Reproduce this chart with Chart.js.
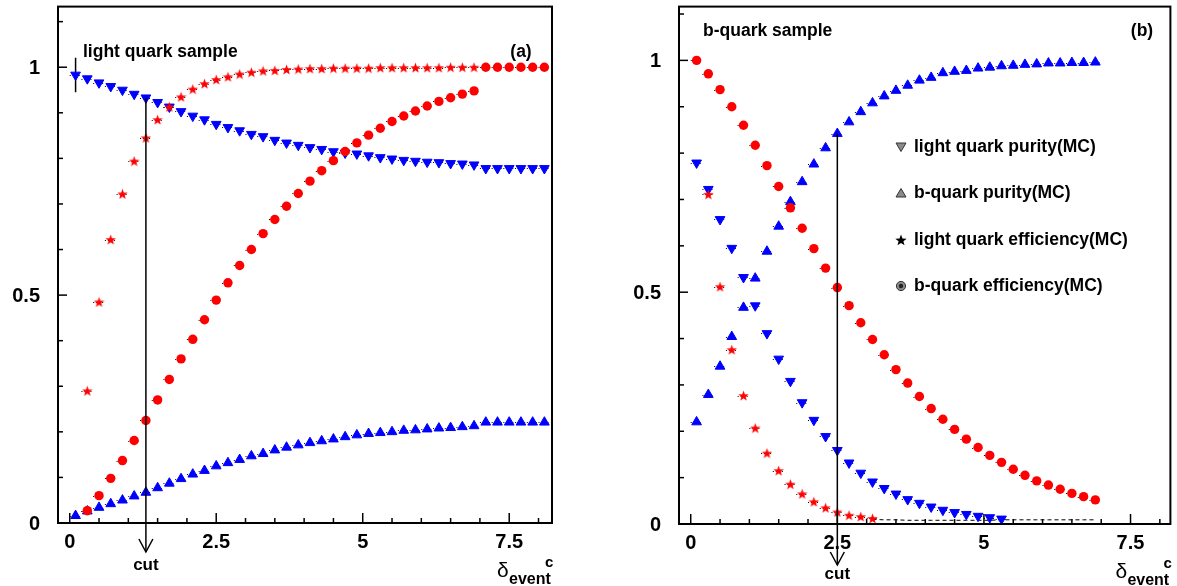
<!DOCTYPE html>
<html lang="en">
<head>
<meta charset="UTF-8">
<title>Purity and efficiency vs delta_event cut</title>
<script src="https://cdn.jsdelivr.net/npm/chart.js"></script>
<style>
  body { margin: 0; background: #fff; }
  canvas { position: absolute; top: 0; }
</style>
</head>
<body>
<canvas id="chartA" width="590" height="586" style="left:0"></canvas>
<canvas id="chartB" width="587" height="586" style="left:590px"></canvas>
<script>
// ---- data: light quark sample (a) ----
const xA = [0.1, 0.3, 0.5, 0.7, 0.9, 1.1, 1.3, 1.5, 1.7, 1.9, 2.1, 2.3, 2.5, 2.7, 2.9, 3.1, 3.3, 3.5, 3.7, 3.9,
            4.1, 4.3, 4.5, 4.7, 4.9, 5.1, 5.3, 5.5, 5.7, 5.9, 6.1, 6.3, 6.5, 6.7, 6.9,
            7.1, 7.3, 7.5, 7.7, 7.9, 8.1];
const lqPurityA = [0.983, 0.975, 0.966, 0.958, 0.950, 0.941, 0.933, 0.923, 0.913, 0.903, 0.893, 0.885, 0.875, 0.868, 0.861, 0.853, 0.848, 0.840, 0.834, 0.829,
                   0.824, 0.820, 0.815, 0.812, 0.810, 0.806, 0.802, 0.799, 0.796, 0.794, 0.792, 0.791, 0.789, 0.788, 0.786,
                   0.778, 0.778, 0.778, 0.778, 0.778, 0.778];
const bPurityA = [0.016, 0.026, 0.034, 0.042, 0.050, 0.059, 0.067, 0.077, 0.087, 0.097, 0.107, 0.115, 0.125, 0.132, 0.139, 0.147, 0.152, 0.160, 0.166, 0.171,
                  0.176, 0.180, 0.184, 0.189, 0.193, 0.196, 0.198, 0.200, 0.203, 0.204, 0.206, 0.208, 0.209, 0.211, 0.213,
                  0.221, 0.221, 0.221, 0.221, 0.221, 0.221];
const lqEffA = [null, 0.290, 0.485, 0.622, 0.722, 0.794, 0.845, 0.885, 0.913, 0.935, 0.952, 0.964, 0.973, 0.979, 0.985, 0.989, 0.992, 0.993, 0.995, 0.996,
                0.997, 0.997, 0.998, 0.998, 0.998, 0.998, 0.999, 0.999, 0.999, 0.999, 0.999, 0.999, 1.0, 1.0, 1.0,
                null, null, null, null, null, null];
const bEffA = [null, 0.027, 0.060, 0.098, 0.137, 0.181, 0.225, 0.270, 0.315, 0.360, 0.403, 0.446, 0.489, 0.527, 0.565, 0.600, 0.635, 0.666, 0.695, 0.723,
               0.750, 0.773, 0.795, 0.815, 0.834, 0.851, 0.866, 0.881, 0.893, 0.904, 0.915, 0.925, 0.933, 0.941, 0.948,
               1.0, 1.0, 1.0, 1.0, 1.0, 1.0];
const errBarA = [0.945, 1.021];   // error on first purity point
const cutA = 1.3;

// ---- data: b-quark sample (b) ----
const xB = [0.1, 0.3, 0.5, 0.7, 0.9, 1.1, 1.3, 1.5, 1.7, 1.9, 2.1, 2.3, 2.5, 2.7, 2.9, 3.1, 3.3, 3.5, 3.7, 3.9,
            4.1, 4.3, 4.5, 4.7, 4.9, 5.1, 5.3, 5.5, 5.7, 5.9, 6.1, 6.3, 6.5, 6.7, 6.9];
const bEffB = [1.0, 0.971, 0.937, 0.900, 0.860, 0.817, 0.773, 0.728, 0.682, 0.638, 0.594, 0.552, 0.510, 0.471, 0.434, 0.398, 0.365, 0.333, 0.304, 0.275,
               0.249, 0.226, 0.204, 0.183, 0.165, 0.148, 0.133, 0.118, 0.105, 0.093, 0.084, 0.075, 0.066, 0.059, 0.052];
const bPurityB = [0.220, 0.279, 0.340, 0.404, 0.467, 0.530, 0.588, 0.642, 0.695, 0.738, 0.776, 0.811, 0.842, 0.867, 0.889, 0.908, 0.923, 0.935, 0.946, 0.957,
                  0.963, 0.973, 0.976, 0.978, 0.983, 0.985, 0.988, 0.989, 0.991, 0.992, 0.994, 0.994, 0.995, 0.995, 0.996];
const lqPurityB = [0.779, 0.722, 0.657, 0.595, 0.532, 0.471, 0.411, 0.356, 0.308, 0.262, 0.224, 0.189, 0.159, 0.132, 0.110, 0.091, 0.077, 0.065, 0.053, 0.045,
                   0.037, 0.030, 0.025, 0.021, 0.017, 0.014, 0.011, null, null, null, null, null, null, null, null];
const lqEffB = [null, 0.711, 0.512, 0.376, 0.277, 0.207, 0.153, 0.115, 0.086, 0.065, 0.048, 0.035, 0.026, 0.019, 0.016, 0.012, null, null, null, null,
                null, null, null, null, null, null, null, null, null, null, null, null, null, null, null];
const tailB = [null, null, null, null, null, null, null, null, null, null, null, null, null, null, null, 0.010, 0.009, 0.009, 0.008, 0.008,
               0.008, 0.008, 0.008, 0.008, 0.008, 0.008, 0.009, 0.009, 0.009, 0.009, 0.009, 0.009, 0.009, 0.009, 0.009];
const cutB = 2.5;
const binHalfWidth = 0.1;

const xTickLabels = ['0', '2.5', '5', '7.5'];
const yTickLabels = ['0', '0.5', '1'];
const legendLabels = ['light quark purity(MC)', 'b-quark purity(MC)', 'light quark efficiency(MC)', 'b-quark efficiency(MC)'];

const RED = '#ff0000', BLUE = '#0000ff';
const FONT = '"Liberation Sans", Arial, Helvetica, sans-serif';

function pts(xs, ys) {
    return xs.map((x, i) => ({ x: x, y: ys[i] }));
}

// filled five point star used as marker
function starImage(size, color) {
    const c = document.createElement('canvas');
    c.width = c.height = size;
    const g = c.getContext('2d');
    const cx = size / 2, cy = size / 2 + 0.5, R = size / 2, r = R * 0.42;
    g.fillStyle = color;
    g.beginPath();
    for (let i = 0; i < 10; i++) {
        const a = -Math.PI / 2 + i * Math.PI / 5;
        const rr = i % 2 ? r : R;
        g.lineTo(cx + rr * Math.cos(a), cy + rr * Math.sin(a));
    }
    g.closePath();
    g.fill();
    return c;
}
const redStar = starImage(11, RED);

// markers only; the dotted horizontal bin-width bars are drawn by the plugin
function series(data, style) {
    const base = { data: data, showLine: false, xErr: true };
    if (style === 'circle') {
        Object.assign(base, { pointStyle: 'circle', pointRadius: 4.7, pointBackgroundColor: RED, pointBorderColor: RED, pointBorderWidth: 0 });
    } else if (style === 'star') {
        Object.assign(base, { pointStyle: redStar, pointRadius: 5 });
    } else if (style === 'up') {
        Object.assign(base, { pointStyle: 'triangle', pointRadius: 5.6, pointBackgroundColor: BLUE, pointBorderColor: BLUE, pointBorderWidth: 1 });
    } else if (style === 'down') {
        Object.assign(base, { pointStyle: 'triangle', rotation: 180, pointRadius: 5.6, pointBackgroundColor: BLUE, pointBorderColor: BLUE, pointBorderWidth: 1 });
    }
    return base;
}

function isMultiple(v, step) {
    const q = v / step;
    return Math.abs(q - Math.round(q)) < 1e-6;
}

function line(ctx, x1, y1, x2, y2) {
    ctx.beginPath();
    ctx.moveTo(x1, y1);
    ctx.lineTo(x2, y2);
    ctx.stroke();
}

function legendMarker(ctx, kind, x, y) {
    ctx.save();
    ctx.lineWidth = 1;
    ctx.strokeStyle = '#333';
    ctx.fillStyle = '#8a8a8a';
    if (kind === 'down' || kind === 'up') {
        const s = kind === 'down' ? 1 : -1;
        ctx.beginPath();
        ctx.moveTo(x - 5, y - 4 * s);
        ctx.lineTo(x + 5, y - 4 * s);
        ctx.lineTo(x, y + 4.5 * s);
        ctx.closePath();
        ctx.fill();
        ctx.stroke();
    } else if (kind === 'star') {
        ctx.drawImage(starImage(12, '#000'), x - 6, y - 6);
    } else {
        ctx.beginPath();
        ctx.arc(x, y, 4.6, 0, Math.PI * 2);
        ctx.fill();
        ctx.stroke();
        ctx.fillStyle = '#222';
        ctx.beginPath();
        ctx.arc(x, y, 2.2, 0, Math.PI * 2);
        ctx.fill();
    }
    ctx.restore();
}

// frame, inward ticks, tick labels, bin bars, cut arrow and annotations
const panelDecor = {
    id: 'panelDecor',
    beforeDatasetsDraw(chart) {
        const ctx = chart.ctx;
        const xs = chart.scales.x, ys = chart.scales.y;
        ctx.save();
        ctx.strokeStyle = '#000';
        ctx.lineWidth = 1;
        ctx.setLineDash([1, 2]);
        chart.data.datasets.forEach(ds => {
            if (!ds.xErr) return;
            ds.data.forEach(p => {
                if (p.y === null) return;
                const py = Math.round(ys.getPixelForValue(p.y)) + 0.5;
                line(ctx, xs.getPixelForValue(p.x - binHalfWidth), py, xs.getPixelForValue(p.x + binHalfWidth), py);
            });
        });
        ctx.restore();
    },
    afterDraw(chart, args, opts) {
        const ctx = chart.ctx;
        const a = chart.chartArea;
        const xs = chart.scales.x, ys = chart.scales.y;
        ctx.save();
        ctx.strokeStyle = '#000';
        ctx.lineWidth = 2;
        ctx.strokeRect(a.left, a.top, a.right - a.left, a.bottom - a.top);

        ctx.lineWidth = 1.5;
        xs.ticks.forEach(t => {
            const px = xs.getPixelForValue(t.value);
            line(ctx, px, a.bottom, px, a.bottom - (isMultiple(t.value, 2.5) ? 10 : 5));
        });
        ys.ticks.forEach(t => {
            const py = ys.getPixelForValue(t.value);
            line(ctx, a.left, py, a.left + (isMultiple(t.value, 0.5) ? 9 : 5), py);
        });

        ctx.fillStyle = '#000';
        ctx.font = 'bold 20px ' + FONT;
        ctx.textAlign = 'center';
        ctx.textBaseline = 'alphabetic';
        xTickLabels.forEach(l => ctx.fillText(l, xs.getPixelForValue(parseFloat(l)), a.bottom + 25));
        ctx.textAlign = 'right';
        ctx.textBaseline = 'middle';
        yTickLabels.forEach(l => ctx.fillText(l, a.left - 18, ys.getPixelForValue(parseFloat(l)) + 1));

        // cut arrow
        const cx = xs.getPixelForValue(opts.cut);
        const ctop = ys.getPixelForValue(opts.cutTop);
        ctx.lineWidth = 1.5;
        line(ctx, cx, ctop, cx, opts.arrowTip);
        ctx.beginPath();
        ctx.moveTo(cx - 7, opts.arrowTip - 13);
        ctx.lineTo(cx, opts.arrowTip);
        ctx.lineTo(cx + 7, opts.arrowTip - 13);
        ctx.stroke();
        ctx.font = 'bold 17px ' + FONT;
        ctx.textAlign = 'center';
        ctx.textBaseline = 'middle';
        ctx.fillText('cut', cx, opts.cutLabelY);

        // axis title
        ctx.textAlign = 'left';
        ctx.textBaseline = 'alphabetic';
        ctx.font = '21px ' + FONT;
        ctx.fillText('\u03b4', a.right - 55, a.bottom + 54);
        ctx.font = 'bold 16px ' + FONT;
        ctx.fillText('event', a.right - 43, a.bottom + 61);
        ctx.font = 'bold 15px ' + FONT;
        ctx.fillText('c', a.right - 7, a.bottom + 44);

        // sample name and panel tag
        ctx.font = 'bold 17.5px ' + FONT;
        ctx.textBaseline = 'middle';
        ctx.fillText(opts.title, opts.titleX, opts.titleY);
        ctx.textAlign = 'center';
        ctx.fillText(opts.tag, opts.tagX, opts.titleY);

        if (opts.legend) {
            const kinds = ['down', 'up', 'star', 'circle'];
            ctx.textAlign = 'left';
            legendLabels.forEach((l, i) => {
                const y = opts.legend.y[i];
                legendMarker(ctx, kinds[i], opts.legend.x, y);
                ctx.fillStyle = '#000';
                ctx.fillText(l, opts.legend.x + 13, y);
            });
        }
        ctx.restore();
    }
};

function makeChart(id, datasets, area, decor) {
    return new Chart(document.getElementById(id), {
        type: 'scatter',
        data: { datasets: datasets },
        options: {
            responsive: false,
            animation: false,
            events: [],
            layout: { padding: { top: area.top, right: area.right, left: 0, bottom: 0 } },
            plugins: { legend: { display: false }, tooltip: { enabled: false }, panelDecor: decor },
            scales: {
                x: {
                    type: 'linear', min: -0.2, max: area.xMax,
                    grid: { display: false, drawTicks: false },
                    border: { display: false },
                    ticks: { display: false, stepSize: 0.5, includeBounds: false },
                    afterFit: s => { s.height = area.bottomH; }
                },
                y: {
                    type: 'linear', min: 0, max: area.yMax,
                    grid: { display: false, drawTicks: false },
                    border: { display: false },
                    ticks: { display: false, stepSize: 0.1, includeBounds: false },
                    afterFit: s => { s.width = area.leftW; }
                }
            }
        },
        plugins: [panelDecor]
    });
}

makeChart('chartA', [
    series(pts(xA, bEffA), 'circle'),
    series(pts(xA, lqEffA), 'star'),
    series(pts(xA, bPurityA), 'up'),
    series(pts(xA, lqPurityA), 'down'),
    { data: pts([0.1, 0.1], errBarA), showLine: true, borderColor: '#000', borderWidth: 1.5, pointRadius: 0 }
], { top: 5, right: 38, leftW: 58, bottomH: 63, xMax: 8.23, yMax: 1.133 }, {
    cut: cutA, cutTop: 0.933, arrowTip: 552, cutLabelY: 565,
    title: 'light quark sample', titleX: 83, titleY: 52, tag: '(a)', tagX: 521
});

makeChart('chartB', [
    series(pts(xB, bEffB), 'circle'),
    series(pts(xB, lqEffB), 'star'),
    series(pts(xB, bPurityB), 'up'),
    series(pts(xB, lqPurityB), 'down'),
    { data: pts(xB, tailB), showLine: true, borderColor: '#000', borderWidth: 1, borderDash: [4, 3], pointRadius: 0 }
], { top: 5, right: 5, leftW: 89, bottomH: 62, xMax: 8.18, yMax: 1.116 }, {
    cut: cutB, cutTop: 0.842, arrowTip: 565, cutLabelY: 574,
    title: 'b-quark sample', titleX: 113, titleY: 31, tag: '(b)', tagX: 552,
    legend: { x: 311, y: [147, 193, 240, 286] }
});
</script>
</body>
</html>
